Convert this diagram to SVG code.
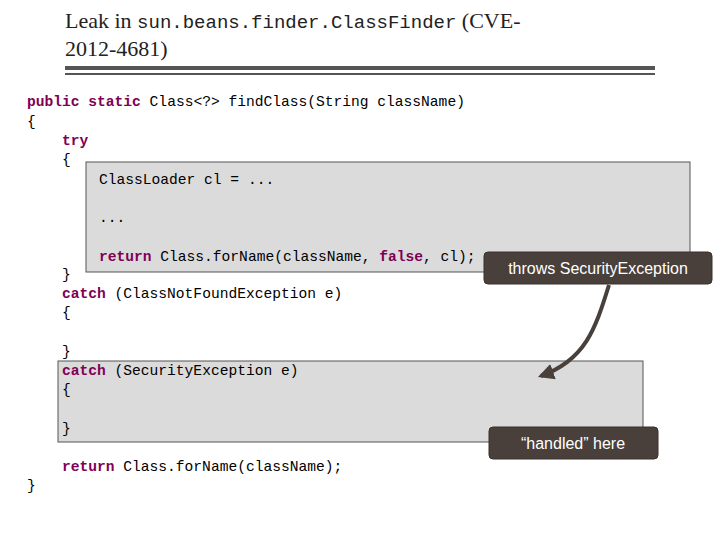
<svg xmlns="http://www.w3.org/2000/svg" width="720" height="540" viewBox="0 0 720 540">
<style>
.c{font-family:"Liberation Mono",monospace;font-size:14.6px;fill:#000;white-space:pre}
.k{fill:#7f0055;font-weight:bold}
.box{fill:#dcdbdb;stroke:#555;stroke-width:1}
.call{fill:#4a403b;stroke:#3a302c}
.ct{font-family:"Liberation Sans",sans-serif;font-size:16px;fill:#fff;text-anchor:middle}
</style>
<defs><marker id="ah" viewBox="0 0 10 10" refX="8" refY="5" markerWidth="4" markerHeight="4" orient="auto"><path d="M0,0L10,5L0,10z" fill="#4a403b"/></marker></defs>
<rect width="720" height="540" fill="#fff"/>
<text x="65" y="28" font-family="Liberation Serif,serif" font-size="22" fill="#222">Leak in <tspan font-family="Liberation Mono,monospace" font-size="19">sun.beans.finder.ClassFinder</tspan> (CVE-</text>
<text x="65" y="56" font-family="Liberation Serif,serif" font-size="22" fill="#222">2012-4681)</text>
<rect x="65" y="66" width="590" height="4" fill="#555"/>
<rect x="65" y="73" width="590" height="2" fill="#555"/>
<g id="box1"><rect class="box" x="86" y="162" width="604" height="110"/></g>
<g id="box2"><rect class="box" x="58" y="361" width="585" height="81"/></g>
<g id="code">
<text class="c" x="27" y="106"><tspan class="k">public static</tspan> Class&lt;?&gt; findClass(String className)</text>
<text class="c" x="27" y="126">{</text>
<text class="c" x="62" y="145"><tspan class="k">try</tspan></text>
<text class="c" x="62" y="164">{</text>
<text class="c" x="99" y="184">ClassLoader cl = ...</text>
<text class="c" x="99" y="222">...</text>
<text class="c" x="99" y="261"><tspan class="k">return</tspan> Class.forName(className, <tspan class="k">false</tspan>, cl);</text>
<text class="c" x="62" y="279">}</text>
<text class="c" x="62" y="298"><tspan class="k">catch</tspan> (ClassNotFoundException e)</text>
<text class="c" x="62" y="317">{</text>
<text class="c" x="62" y="356">}</text>
<text class="c" x="62" y="375"><tspan class="k">catch</tspan> (SecurityException e)</text>
<text class="c" x="62" y="394">{</text>
<text class="c" x="62" y="433">}</text>
<text class="c" x="62" y="471"><tspan class="k">return</tspan> Class.forName(className);</text>
<text class="c" x="27" y="490">}</text>
</g>
<g id="connectors"><path d="M609,285 C595,330 585,360 541,376" fill="none" stroke="#4a403b" stroke-width="4" marker-end="url(#ah)"/></g>
<g id="throws"><rect class="call" x="484" y="252" width="228" height="32" rx="4"/><text class="ct" x="598" y="274">throws SecurityException</text></g>
<g id="handled"><rect class="call" x="489" y="427" width="169" height="32" rx="4"/><text class="ct" x="573" y="449">“handled” here</text></g>
</svg>
